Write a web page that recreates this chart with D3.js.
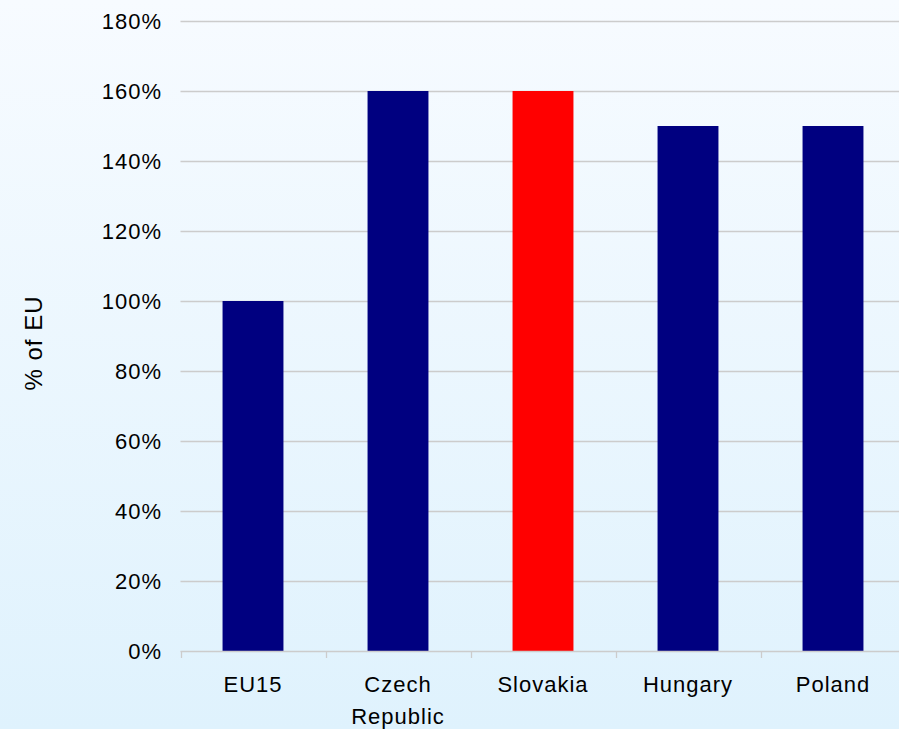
<!DOCTYPE html>
<html>
<head>
<meta charset="utf-8">
<script src="https://cdn.jsdelivr.net/npm/d3@7"></script>
<style>
  html, body { margin: 0; padding: 0; overflow: hidden; }
  svg { display: block; font-family: Arial, "Liberation Sans", sans-serif; }
</style>
</head>
<body>
<svg id="chart" width="899" height="729"></svg>
<script>
// Labour productivity relative to the EU average
const categories = ["EU15", "Czech Republic", "Slovakia", "Hungary", "Poland"];
const values = [100, 160, 160, 150, 150];
const highlighted = ["Slovakia"];
const yTicks = [0, 20, 40, 60, 80, 100, 120, 140, 160, 180];
const yTitle = "% of EU";

const W = 899, H = 729;
const svg = d3.select("#chart");

// soft vertical background gradient
const defs = svg.append("defs");
const grad = defs.append("linearGradient")
  .attr("id", "bg").attr("x1", 0).attr("y1", 0).attr("x2", 0).attr("y2", 1);
grad.append("stop").attr("offset", "0%").attr("stop-color", "#f7fbff");
grad.append("stop").attr("offset", "100%").attr("stop-color", "#dff2fd");
svg.append("rect").attr("width", W).attr("height", H).attr("fill", "url(#bg)");

const plotLeft = 180.5, plotRight = 905.5, plotTop = 21, plotBottom = 651;

const x = d3.scaleBand().domain(categories).range([plotLeft, plotRight])
  .paddingInner(0.58).paddingOuter(0.29);
const y = d3.scaleLinear().domain([0, 180]).range([plotBottom, plotTop]);

// horizontal gridlines
svg.append("g").selectAll("line")
  .data(yTicks.filter(d => d > 0))
  .join("line")
  .attr("x1", plotLeft).attr("x2", W)
  .attr("y1", d => Math.round(y(d)) + 0.5).attr("y2", d => Math.round(y(d)) + 0.5)
  .attr("stroke", "#cccccc").attr("stroke-width", 1.3);

// y tick labels
svg.append("g").selectAll("text")
  .data(yTicks)
  .join("text")
  .attr("x", 162).attr("y", d => y(d))
  .attr("dy", "0.36em")
  .attr("text-anchor", "end")
  .attr("font-size", 22)
  .attr("letter-spacing", 1)
  .attr("fill", "#000")
  .text(d => d + "%");

// bars
svg.append("g").selectAll("rect")
  .data(categories.map((c, i) => ({ c, v: values[i] })))
  .join("rect")
  .attr("x", d => x(d.c))
  .attr("width", x.bandwidth())
  .attr("y", d => y(d.v))
  .attr("height", d => plotBottom - y(d.v))
  .attr("fill", d => highlighted.includes(d.c) ? "#ff0000" : "#000080");

// category axis line and ticks
const axisG = svg.append("g");
axisG.append("line")
  .attr("x1", plotLeft).attr("x2", W)
  .attr("y1", plotBottom + 0.5).attr("y2", plotBottom + 0.5)
  .attr("stroke", "#cccccc").attr("stroke-width", 1.3);
const step = x.step();
const boundaries = d3.range(categories.length + 1).map(i => plotLeft + i * step);
axisG.selectAll("line.tick")
  .data(boundaries)
  .join("line")
  .attr("class", "tick")
  .attr("x1", d => Math.round(d) + 0.5).attr("x2", d => Math.round(d) + 0.5)
  .attr("y1", plotBottom).attr("y2", plotBottom + 7)
  .attr("stroke", "#cccccc").attr("stroke-width", 1.3);

// category labels, wrapped on spaces
const labels = svg.append("g").selectAll("text")
  .data(categories)
  .join("text")
  .attr("text-anchor", "middle")
  .attr("font-size", 22)
  .attr("letter-spacing", 1)
  .attr("fill", "#000");
labels.each(function(d) {
  const words = d.split(" ");
  const t = d3.select(this);
  words.forEach((w, i) => {
    t.append("tspan")
      .attr("x", x(d) + x.bandwidth() / 2)
      .attr("y", 692 + i * 32)
      .text(w);
  });
});

// y axis title
svg.append("text")
  .attr("transform", "translate(42,343) rotate(-90)")
  .attr("text-anchor", "middle")
  .attr("font-size", 24)
  .attr("letter-spacing", 1)
  .attr("fill", "#000")
  .text(yTitle);
</script>
</body>
</html>
